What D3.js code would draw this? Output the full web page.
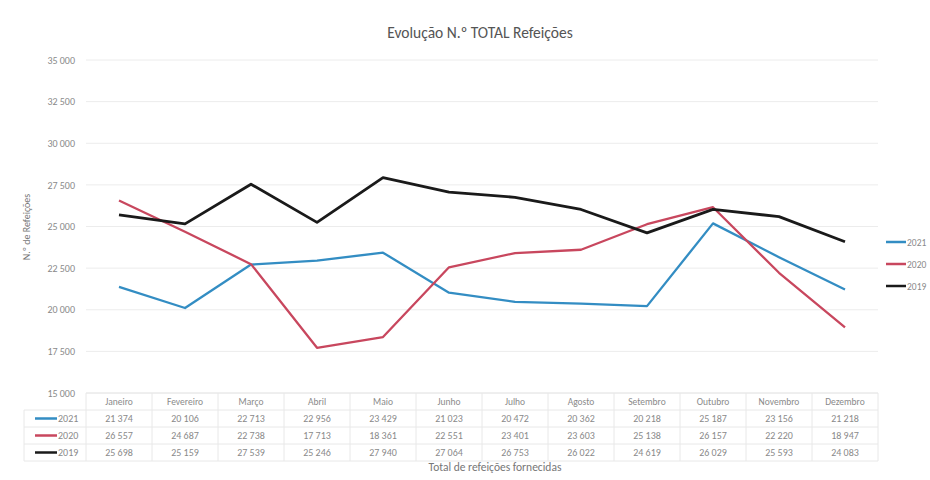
<!DOCTYPE html>
<html><head><meta charset="utf-8">
<script src="https://cdn.jsdelivr.net/npm/d3@7"></script>
<style>body{margin:0;background:#fff;} text{font-family:Calibri,"Liberation Sans","Open Sans",sans-serif;}</style>
</head><body><svg id="c" width="930" height="480"></svg>
<script>
const months = ["Janeiro","Fevereiro","Março","Abril","Maio","Junho","Julho","Agosto","Setembro","Outubro","Novembro","Dezembro"];
const seriesNames = ["2021","2020","2019"];
const v2021 = [21374,20106,22713,22956,23429,21023,20472,20362,20218,25187,23156,21218];
const v2020 = [26557,24687,22738,17713,18361,22551,23401,23603,25138,26157,22220,18947];
const v2019 = [25698,25159,27539,25246,27940,27064,26753,26022,24619,26029,25593,24083];
const yTicks = [15000,17500,20000,22500,25000,27500,30000,32500,35000];
const colors = ["#338dc3","#c8475e","#1a1a1a"];
const series = [v2021,v2020,v2019];

(function(){
const svg = d3.select("#c");
const fmt = n => d3.format(",")(n).replace(/,/g," ");
const txt = "#8a8a8a";

const pL = 86, pR = 878, pT = 60, pB = 393;
const x = d3.scaleBand().domain(months).range([pL,pR]);
const y = d3.scaleLinear().domain([15000,35000]).range([pB,pT]);

svg.append("text").attr("x",480).attr("y",38).attr("text-anchor","middle")
  .attr("font-size",15.5).attr("fill","#555").text("Evolução N.º TOTAL Refeições");

svg.append("g").selectAll("line").data(yTicks).join("line")
  .attr("x1",pL).attr("x2",pR).attr("y1",d=>y(d)).attr("y2",d=>y(d))
  .attr("stroke","#ececec").attr("stroke-width",1);

const ya = svg.append("g").attr("transform",`translate(${pL-8},0)`)
  .call(d3.axisLeft(y).tickValues(yTicks).tickFormat(fmt).tickSize(0));
ya.select(".domain").remove();
ya.selectAll("text").attr("font-size",10).attr("fill",txt)
  .style("font-family","Calibri,'Liberation Sans',sans-serif");

svg.append("text").attr("transform","translate(30,227) rotate(-90)")
  .attr("text-anchor","middle").attr("font-size",10).attr("fill","#777").text("N.º de Refeições");

const line = d3.line().x((d,i)=>x(months[i])+x.bandwidth()/2).y(d=>y(d));
series.forEach((s,k)=>{
  svg.append("path").datum(s).attr("d",line).attr("fill","none")
    .attr("stroke",colors[k]).attr("stroke-width",k===2?2.8:2.3).attr("stroke-linejoin","round");
});

const rowH = 17, tTop = pB;
const tbl = svg.append("g");
[0,1,2,3,4].forEach(i=>{
  const yy = tTop+i*rowH;
  tbl.append("line").attr("x1", i===0?pL:24).attr("x2",pR).attr("y1",yy).attr("y2",yy).attr("stroke","#e8e8e8");
});
months.forEach(m=>{
  tbl.append("line").attr("x1",x(m)).attr("x2",x(m)).attr("y1",tTop).attr("y2",tTop+4*rowH).attr("stroke","#e8e8e8");
});
tbl.append("line").attr("x1",pR).attr("x2",pR).attr("y1",tTop).attr("y2",tTop+4*rowH).attr("stroke","#e8e8e8");
tbl.append("line").attr("x1",24).attr("x2",24).attr("y1",tTop+rowH).attr("y2",tTop+4*rowH).attr("stroke","#e8e8e8");

tbl.selectAll("text.h").data(months).join("text").attr("class","h")
  .attr("x",d=>x(d)+x.bandwidth()/2).attr("y",tTop+12).attr("text-anchor","middle")
  .attr("font-size",9.5).attr("fill",txt).text(d=>d);

series.forEach((s,k)=>{
  const ry = tTop + (k+1)*rowH + 12;
  tbl.append("line").attr("x1",35).attr("x2",57).attr("y1",ry-3.5).attr("y2",ry-3.5)
    .attr("stroke",colors[k]).attr("stroke-width",2.5);
  tbl.append("text").attr("x",58).attr("y",ry).attr("font-size",10).attr("fill",txt).text(seriesNames[k]);
  tbl.selectAll("text.v"+k).data(s).join("text").attr("class","v"+k)
    .attr("x",(d,i)=>x(months[i])+x.bandwidth()/2).attr("y",ry).attr("text-anchor","middle")
    .attr("font-size",10).attr("fill",txt).text(d=>fmt(d));
});

svg.append("text").attr("x",495).attr("y",471).attr("text-anchor","middle")
  .attr("font-size",11.5).attr("fill","#777").text("Total de refeições fornecidas");

series.forEach((s,k)=>{
  const ly = 242 + k*22;
  svg.append("line").attr("x1",886).attr("x2",906).attr("y1",ly).attr("y2",ly)
    .attr("stroke",colors[k]).attr("stroke-width",2.5);
  svg.append("text").attr("x",907).attr("y",ly+3.5).attr("font-size",9.5).attr("fill",txt).text(seriesNames[k]);
});
})();
</script></body></html>
